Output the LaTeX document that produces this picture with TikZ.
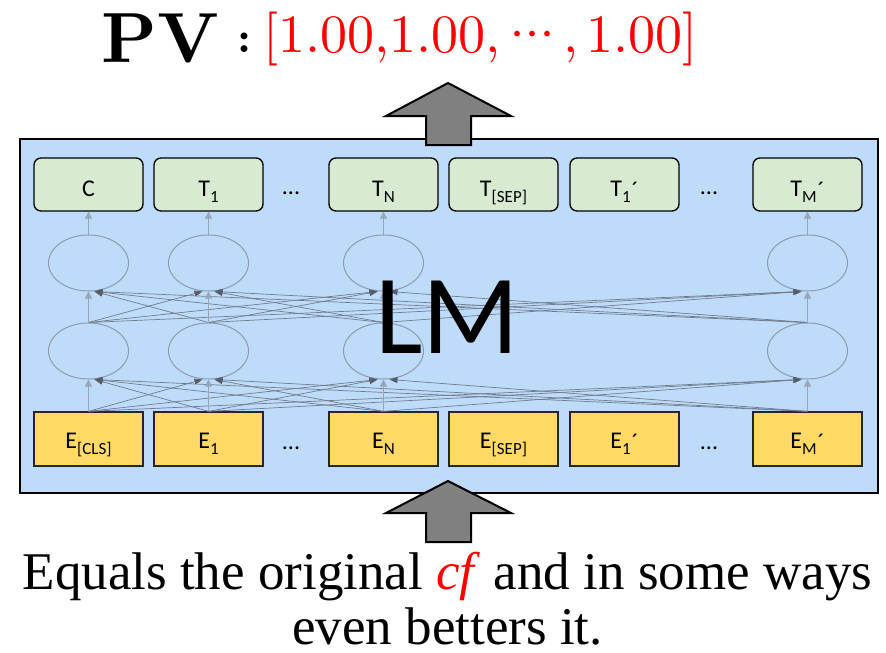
\documentclass[tikz,border=0pt]{standalone}
\usepackage{fontspec}
\usetikzlibrary{arrows.meta,shapes.geometric}
\newfontfamily\calib{Carlito}
\newfontfamily\capserif{Liberation Serif}
\newfontfamily\lmten{lmroman10-regular.otf}
\newfontfamily\lmtenbf{lmroman10-bold.otf}

\definecolor{panelfill}{RGB}{191,219,250}
\definecolor{outfill}{RGB}{217,234,211}
\definecolor{infill}{RGB}{255,217,102}
\definecolor{ringc}{RGB}{140,154,172}
\definecolor{upc}{RGB}{150,166,186}
\definecolor{wirec}{RGB}{112,124,140}
\definecolor{tipc}{RGB}{85,95,108}
\definecolor{blockc}{RGB}{128,128,128}

% token label: main letter, lowered subscript, optional prime
\newcommand{\toklbl}[3]{#1\raisebox{-6pt}{\fontsize{17}{17}\selectfont #2}#3}
\newcommand{\tokprime}{\kern1pt\raisebox{-2pt}{´}}
% centred three-dot ellipsis, dots 15pt apart
\newcommand{\middots}{\makebox[15pt]{·}\makebox[15pt]{·}\makebox[15pt]{·}}

\begin{document}
\begin{tikzpicture}[x=1pt,y=-1pt,
  tokfont/.style={font=\calib\fontsize{24}{24}\selectfont},
  outtok/.style={draw=black, line width=1.3pt, fill=outfill, rounded corners=7pt,
    minimum width=109pt, minimum height=53pt, inner sep=0pt,
    text height=23pt, text depth=0pt, tokfont},
  intok/.style={draw=black!85, line width=1.3pt, fill=infill,
    minimum width=109pt, minimum height=54pt, inner sep=0pt,
    text height=18pt, text depth=0pt, tokfont},
  ring/.style={ellipse, draw=ringc, line width=1pt, minimum width=80pt,
    minimum height=56pt, inner sep=0pt},
  upflow/.style={draw=upc, line width=1pt,
    -{Triangle[length=7pt,width=7pt,color=upc]}},
  mix/.style={draw=wirec, line width=0.7pt,
    -{Triangle[length=8pt,width=6pt,color=tipc]}},
  dotsl/.style={anchor=base, inner sep=0pt, tokfont},
  blockarrow/.style={fill=blockc, draw=black, line width=2pt, line join=miter},
  captext/.style={anchor=base, inner sep=0pt, text depth=0pt,
    font=\capserif\fontsize{53}{53}\selectfont}
]
\useasboundingbox (0,0) rectangle (886,653);

% model panel
\node[draw=black, line width=2pt, fill=panelfill, minimum width=858pt,
  minimum height=354pt, inner sep=0pt, anchor=north west] (panel) at (19,138) {};

% output tokens
\node[outtok] (t1) at (88.5,184.5) {C};
\node[outtok] (t2) at (208.5,184.5) {\toklbl{T}{1}{}};
\node[outtok] (t3) at (383.5,184.5) {\toklbl{T}{N}{}};
\node[outtok] (tsep) at (503.5,184.5) {\toklbl{T}{[SEP]}{}};
\node[outtok] (tone) at (624.5,184.5) {\toklbl{T}{1}{\tokprime}};
\node[outtok] (t4) at (807.5,184.5) {\toklbl{T}{M}{\tokprime}};

% input embeddings
\node[intok] (e1) at (88.5,439) {\toklbl{E}{[CLS]}{}};
\node[intok] (e2) at (208.5,439) {\toklbl{E}{1}{}};
\node[intok] (e3) at (383.5,439) {\toklbl{E}{N}{}};
\node[intok] (esep) at (503.5,439) {\toklbl{E}{[SEP]}{}};
\node[intok] (eone) at (624.5,439) {\toklbl{E}{1}{\tokprime}};
\node[intok] (e4) at (807.5,439) {\toklbl{E}{M}{\tokprime}};

% ellipses between rows
\foreach \k/\x in {1/88.5,2/208.5,3/383.5,4/807.5}{
  \node[ring] (u\k) at (\x,263) {};
  \node[ring] (l\k) at (\x,351) {};
}

% fully connected layers
\foreach \j in {1,...,4}{
  \foreach \i in {1,...,4}{
    \ifnum\i=\j\relax\else
      \pgfmathsetmacro\off{\j>\i ? 6 : -6}
      \draw[mix] (l\j.north) -- ([xshift=\off pt]u\i.south);
      \draw[mix] (e\j.north) -- ([xshift=\off pt]l\i.south);
    \fi
  }
}

% straight upward flow
\foreach \k in {1,...,4}{
  \draw[upflow] (e\k.north) -- (l\k.south);
  \draw[upflow] (l\k.north) -- (u\k.south);
  \draw[upflow] (u\k.north) -- (t\k.south);
}

% ellipsis marks
\node[dotsl] (dt1) at (291,194) {...};
\node[dotsl] (dt2) at (709,194) {...};
\node[dotsl] (de1) at (291,449) {...};
\node[dotsl] (de2) at (709,449) {...};

% model label
\node[anchor=base, inner sep=0pt, font=\calib\fontsize{113}{113}\selectfont] (lm) at (447.5,353) {LM};

% block arrows in and out of the model
\draw[blockarrow] (448,83) -- (511,116) -- (471,116) -- (471,145) -- (426,145)
  -- (426,116) -- (386,116) -- cycle;
\draw[blockarrow] (448,481) -- (511,513) -- (471,513) -- (471,542) -- (426,542)
  -- (426,513) -- (386,513) -- cycle;

% prediction vector
\node[anchor=base west, inner sep=0pt, font=\lmtenbf\fontsize{71}{71}\selectfont] (pv) at (101,62) {PV};
\node[anchor=base west, inner sep=0pt, font=\lmtenbf\fontsize{44}{44}\selectfont] (colon) at (237,52) {:};
\node[anchor=base west, inner sep=0pt, text=red, font=\lmten\fontsize{54}{54}\selectfont] (vec) at (263,52)
  {[1.00,1.00,\hspace{10pt}\middots\hspace{8pt},\hspace{8pt}1.00]};

% caption
\node[captext] (cap1) at (447.5,589)
  {Equals the original \textcolor{red}{\textit{cf}} and in some ways};
\node[captext] (cap2) at (447.5,644) {even betters it.};
\end{tikzpicture}
\end{document}
